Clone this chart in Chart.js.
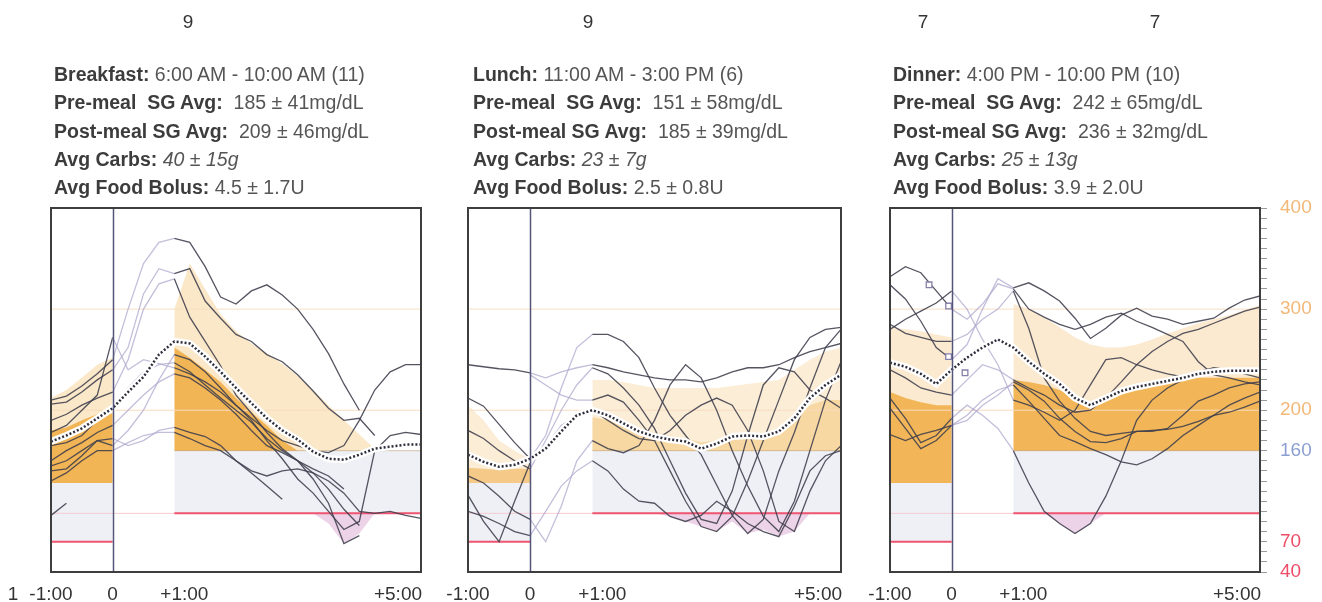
<!DOCTYPE html>
<html>
<head>
<meta charset="utf-8">
<script src="https://cdn.jsdelivr.net/npm/chart.js@4.4.1/dist/chart.umd.min.js"></script>
<style>
  html, body { margin: 0; padding: 0; background: #fff; }
  #page { position: relative; width: 1322px; height: 602px; overflow: hidden;
          font-family: "Liberation Sans", Arial, sans-serif; color: #3a3a3a; }
  #page canvas { position: absolute; left: 0; top: 0; }
  .hdr { position: absolute; top: 60px; font-size: 19.5px; line-height: 28.3px;
         white-space: pre; color: #555; }
  .hdr b { color: #3c3c3c; }
  .num { position: absolute; top: 11px; font-size: 19px; line-height: 22px;
         transform: translateX(-50%); color: #333; }
  .xl { position: absolute; top: 583px; font-size: 19px; line-height: 22px;
        transform: translateX(-50%); color: #333; white-space: pre; }
</style>
</head>
<body>
<div id="page">
  <canvas id="cB" width="1322" height="602"></canvas>
  <canvas id="cL" width="1322" height="602"></canvas>
  <canvas id="cD" width="1322" height="602"></canvas>

  <div class="num" style="left:188px">9</div>
  <div class="num" style="left:588px">9</div>
  <div class="num" style="left:923px">7</div>
  <div class="num" style="left:1155px">7</div>

  <div class="hdr" style="left:54px"><b>Breakfast:</b> 6:00 AM - 10:00 AM (11)
<b>Pre-meal  SG Avg:</b>  185 ± 41mg/dL
<b>Post-meal SG Avg:</b>  209 ± 46mg/dL
<b>Avg Carbs:</b> <i>40 ± 15g</i>
<b>Avg Food Bolus:</b> 4.5 ± 1.7U</div>

  <div class="hdr" style="left:473px"><b>Lunch:</b> 11:00 AM - 3:00 PM (6)
<b>Pre-meal  SG Avg:</b>  151 ± 58mg/dL
<b>Post-meal SG Avg:</b>  185 ± 39mg/dL
<b>Avg Carbs:</b> <i>23 ± 7g</i>
<b>Avg Food Bolus:</b> 2.5 ± 0.8U</div>

  <div class="hdr" style="left:893px"><b>Dinner:</b> 4:00 PM - 10:00 PM (10)
<b>Pre-meal  SG Avg:</b>  242 ± 65mg/dL
<b>Post-meal SG Avg:</b>  236 ± 32mg/dL
<b>Avg Carbs:</b> <i>25 ± 13g</i>
<b>Avg Food Bolus:</b> 3.9 ± 2.0U</div>

  <div class="xl" style="left:13px">1</div>
</div>

<script>
// ---- time grid (minutes relative to the meal) ----
const T = [-60,-45,-30,-15,0,15,30,45,60,75,90,105,120,135,150,165,180,195,210,225,240,255,270,285,300];
const PRE_T = T.slice(0, 5);     // -1:00 .. 0
const POST_T = T.slice(8);       // +1:00 .. +5:00

// target limits (mg/dL)
const PRE_HIGH = 128, PRE_LOW = 70, POST_HIGH = 160, POST_LOW = 98;

// x-axis labels
const tickT = [-60, 0, 60, 300];
const tickText = ['-1:00', '0', '+1:00', '+5:00'];
// right axis labels
const yLabels = [40, 70, 160, 200, 300, 400];

// ---- Breakfast ----
const meanB = [169,175,182,192,202,218,233,255,268,266,253,238,222,207,192,180,171,159,152,151,156,162,164,166,166];
const B1 = [210,214,224,236,250,300,345,366,370,366,342,312,305,318,324,314,300,280,256,226,200,null,null,null,null];
const B2 = [206,208,218,230,240,262,315,340,335,340,308,291,275,268,255,248,235,219,202,190,192,175,null,null,null];
const B3 = [190,196,205,212,218,250,300,325,330,292,268,244,215,197,178,162,150,132,108,68,76,null,null,null,null];
const B4 = [178,185,200,215,272,240,250,246,242,236,228,218,205,192,180,170,165,160,158,165,190,220,238,245,245];
const B5 = [165,168,175,190,205,222,238,245,247,238,225,212,200,188,172,160,150,142,135,122,null,null,null,null,null];
const B6 = [150,160,168,178,185,200,215,228,236,232,222,210,196,180,165,158,150,138,122,102,86,null,null,null,null];
const B7 = [145,150,160,170,172,165,170,180,183,178,174,165,150,140,135,140,142,138,130,118,100,98,100,96,93];
const B8 = [140,142,155,170,165,180,200,230,255,250,238,222,205,190,170,152,132,118,100,82,90,160,175,178,176];
const B9 = [130,138,150,160,160,168,175,178,178,172,165,160,150,138,125,112,null,null,null,null,null,null,null,null,null];
const B10 = [96,108,null,null,null,null,null,null,null,null,null,null,null,null,null,null,null,null,null,null,null,null,null,null,null];
const preHiB = [212,220,232,245,252];
const preMidB = [180,183,190,196,198];
const postHiB = [300,345,320,295,278,266,256,246,234,220,205,190,176,162,null,null,null];
const postMidB = [262,252,240,228,212,198,185,170,160,null,null,null,null,null,null,null,null];
const pinkTB = [195,210,225,240,255];
const pinkB = [98,88,68,78,98];

// ---- Lunch ----
const meanL = [156,149,144,146,152,162,179,195,200,195,187,179,174,171,169,162,167,174,175,174,179,192,212,225,235];
const L1 = [245,243,241,240,237,232,238,242,245,242,238,235,232,230,230,228,232,238,242,242,245,252,258,262,266];
const L2 = [212,204,186,168,152,175,222,262,275,275,268,252,222,195,175,156,126,96,78,92,140,178,222,262,280];
const L3 = [135,128,115,100,92,70,105,150,170,162,158,165,190,225,245,232,200,160,125,95,80,110,160,210,248];
const L4 = [180,172,160,150,142,170,200,225,242,236,222,205,182,150,118,92,88,120,175,225,242,238,220,212,202];
const L5 = [116,90,70,110,148,165,185,195,200,190,180,172,170,180,195,205,212,205,180,140,90,80,120,150,165];
const L6 = [100,95,88,80,76,100,125,140,150,140,122,110,108,95,90,96,110,100,88,80,75,105,140,155,160];
const L7 = [null,null,null,null,235,225,215,210,210,215,208,190,170,140,110,85,80,95,130,170,210,250,272,280,282];
const preHiL = [205,190,170,160,152];
const preMidL = [143,142,141,142,142];
const postHiL = [230,230,228,225,222,222,222,222,222,224,226,228,230,240,250,258,262];
const postMidL = [193,190,186,182,178,175,172,168,170,172,174,176,180,192,205,210,210];
const pinkTL = [120,135,150,165,180,195,210,225,240,255,270];
const pinkL = [98,95,90,85,80,90,78,82,75,80,98];

// ---- Dinner ----
const meanD = [247,243,236,226,240,252,262,270,262,248,236,226,212,205,212,219,223,226,229,232,236,238,239,239,239];
const D1 = [324,310,288,262,250,265,300,330,321,326,318,308,291,271,281,294,301,293,290,285,288,291,301,309,313];
const D2 = [332,342,336,318,300,290,305,325,320,300,292,285,280,285,292,296,288,282,275,268,248,235,232,228,225];
const D3 = [285,276,272,268,268,275,290,300,318,281,232,209,192,179,175,177,179,179,182,195,209,215,222,226,228];
const D4 = [212,192,168,175,192,205,195,182,160,128,100,88,78,88,115,150,190,210,222,230,236,null,null,null,null];
const D5 = [176,170,176,180,185,190,205,215,228,220,209,192,179,169,168,172,179,180,181,184,189,195,198,203,209];
const D6 = [202,182,162,170,185,195,210,220,225,209,192,175,169,162,156,149,146,152,162,175,185,195,205,212,218];
const D7 = [280,290,298,306,318,300,270,245,210,205,198,190,200,225,250,252,245,240,236,233,238,242,240,236,232];
const D8 = [240,232,222,218,215,230,245,240,230,222,215,205,198,200,212,228,245,258,268,276,280,286,292,298,302];
const preHiD = [282,280,278,275,272];
const preMidD = [218,212,208,205,205];
const postHiD = [305,300,292,282,272,265,262,262,265,270,276,281,286,290,294,299,304];
const postMidD = [230,228,225,220,212,208,212,218,222,225,228,230,232,232,232,232,232];
const pinkTD = [90,105,120,135,150];
const pinkD = [98,88,78,88,98];
const markerT = [-22,-3,-3,13];
const markerV = [324,303,253,237];

// ---- helpers ----
const xy = (ts, vs) => vs.map((v, i) => ({ x: ts[i], y: v }));
const DARK = 'rgba(62,62,76,0.88)';
const LIGHT = 'rgba(176,168,206,0.75)';

function area(ts, vs, base, color, order) {
  return { data: xy(ts, vs), fill: { value: base }, backgroundColor: color,
           borderWidth: 0, pointRadius: 0, order };
}
function hLine(t0, t1, v, color, w, order) {
  return { data: [{ x: t0, y: v }, { x: t1, y: v }], borderColor: color,
           borderWidth: w, pointRadius: 0, fill: false, order };
}
function trace(vs) {
  return {
    data: xy(T, vs), borderColor: DARK, borderWidth: 1.3, pointRadius: 0, fill: false, order: 20,
    segment: { borderColor: c => (c.p0.parsed.x >= 0 && c.p1.parsed.x <= 60) ? LIGHT : DARK }
  };
}

const panels = [
  { id: 'cB', left: 51, right: 421, mean: meanB, traces: [B1,B2,B3,B4,B5,B6,B7,B8,B9,B10],
    preHi: preHiB, preMid: preMidB, postHi: postHiB, postMid: postMidB, pinkT: pinkTB, pink: pinkB,
    beige: '#fbe8c8', orange: '#f2b555', preOrange: '#f2b555', axis: false },
  { id: 'cL', left: 468, right: 841, mean: meanL, traces: [L1,L2,L3,L4,L5,L6,L7],
    preHi: preHiL, preMid: preMidL, postHi: postHiL, postMid: postMidL, pinkT: pinkTL, pink: pinkL,
    beige: '#fcedd6', orange: '#f7d7a2', preOrange: '#f5c987', axis: false },
  { id: 'cD', left: 890, right: 1260, mean: meanD, traces: [D1,D2,D3,D4,D5,D6,D7,D8],
    preHi: preHiD, preMid: preMidD, postHi: postHiD, postMid: postMidD, pinkT: pinkTD, pink: pinkD,
    beige: '#fbead0', orange: '#f2b658', preOrange: '#f2b658', axis: true,
    markers: xy(markerT, markerV) }
];

// frame and the meal-time marker
const framePlugin = {
  id: 'frame',
  afterDatasetsDraw(chart) {
    const { ctx, chartArea: a, scales: { x } } = chart;
    ctx.save();
    const x0 = Math.round(x.getPixelForValue(0)) + 0.5;
    ctx.strokeStyle = '#55557a';
    ctx.lineWidth = 1.5;
    ctx.beginPath(); ctx.moveTo(x0, a.top); ctx.lineTo(x0, a.bottom); ctx.stroke();
    ctx.strokeStyle = '#3e3e3e';
    ctx.lineWidth = 2;
    ctx.strokeRect(a.left, a.top, a.right - a.left, a.bottom - a.top);
    ctx.restore();
  }
};

function labelColor(v) {
  if (v >= 200) return '#f2b878';
  if (v === 160) return '#8c9fd2';
  return '#ee4d68';
}

panels.forEach(p => {
  const ds = [];
  // target zones
  ds.push(area([-60, 0], [PRE_HIGH, PRE_HIGH], PRE_LOW, '#eef0f5', 60));
  ds.push(area([60, 300], [POST_HIGH, POST_HIGH], POST_LOW, '#eef0f5', 60));
  // above-target zones
  ds.push(area(PRE_T, p.preHi, PRE_HIGH, p.beige, 58));
  ds.push(area(PRE_T, p.preMid, PRE_HIGH, p.preOrange, 57));
  ds.push(area(POST_T, p.postHi, POST_HIGH, p.beige, 58));
  ds.push(area(POST_T, p.postMid, POST_HIGH, p.orange, 57));
  ds.push(area(p.pinkT, p.pink, POST_LOW, 'rgba(232,200,226,0.8)', 56));
  // reference lines
  ds.push(hLine(-60, 300, 300, '#f8dfc4', 1, 55));
  ds.push(hLine(-60, 300, 200, '#f8dcc0', 1, 55));
  ds.push(hLine(-60, 300, POST_LOW, '#f6ccd2', 1, 55));
  ds.push(hLine(60, 300, POST_HIGH, 'rgba(190,150,110,0.55)', 1, 54));
  ds.push(hLine(-60, 0, PRE_LOW, '#ef5470', 2, 50));
  ds.push(hLine(60, 300, POST_LOW, '#ef5470', 2, 50));
  // individual meal traces
  p.traces.forEach(tr => ds.push(trace(tr)));
  // average curve
  ds.push({ data: xy(T, p.mean), borderColor: '#ffffff', borderWidth: 7, pointRadius: 0, fill: false, order: 2 });
  ds.push({ data: xy(T, p.mean), borderColor: '#2e2e3c', borderWidth: 2.5, borderDash: [2, 2],
            pointRadius: 0, fill: false, order: 1 });
  if (p.markers) {
    ds.push({ data: p.markers, showLine: false, pointStyle: 'rect', pointRadius: 4,
              borderColor: '#8680aa', backgroundColor: '#ffffff', pointBorderWidth: 1.3, order: 0 });
  }

  const yScale = p.axis ? {
    type: 'linear', position: 'right', min: 40, max: 400,
    afterFit: s => { s.width = 60; },
    afterBuildTicks: s => { const t = []; for (let v = 40; v <= 400; v += 10) t.push({ value: v }); s.ticks = t; },
    grid: { drawOnChartArea: false, drawTicks: true, tickLength: 7, color: '#9a9a9a' },
    border: { display: false },
    ticks: {
      autoSkip: false, padding: 13,
      font: { family: 'Liberation Sans', size: 19 },
      color: c => labelColor(c.tick.value),
      callback: v => yLabels.includes(v) ? String(v) : ''
    }
  } : { type: 'linear', min: 40, max: 400, display: false };

  const chart = new Chart(document.getElementById(p.id), {
    type: 'line',
    data: { datasets: ds },
    options: {
      responsive: false, animation: false, devicePixelRatio: 1,
      spanGaps: false,
      layout: { padding: { left: p.left, right: p.axis ? 1322 - p.right - 60 : 1322 - p.right, top: 208, bottom: 30 } },
      scales: {
        x: { type: 'linear', min: -60, max: 300, display: false },
        y: yScale
      },
      plugins: { legend: { display: false }, tooltip: { enabled: false } }
    },
    plugins: [framePlugin]
  });

  // time labels under the panel
  const page = document.getElementById('page');
  const shift = [0, 0, 10, -23];
  tickT.forEach((t, i) => {
    const d = document.createElement('div');
    d.className = 'xl';
    d.textContent = tickText[i];
    d.style.left = (chart.scales.x.getPixelForValue(t) + shift[i]) + 'px';
    page.appendChild(d);
  });
});
</script>
</body>
</html>
